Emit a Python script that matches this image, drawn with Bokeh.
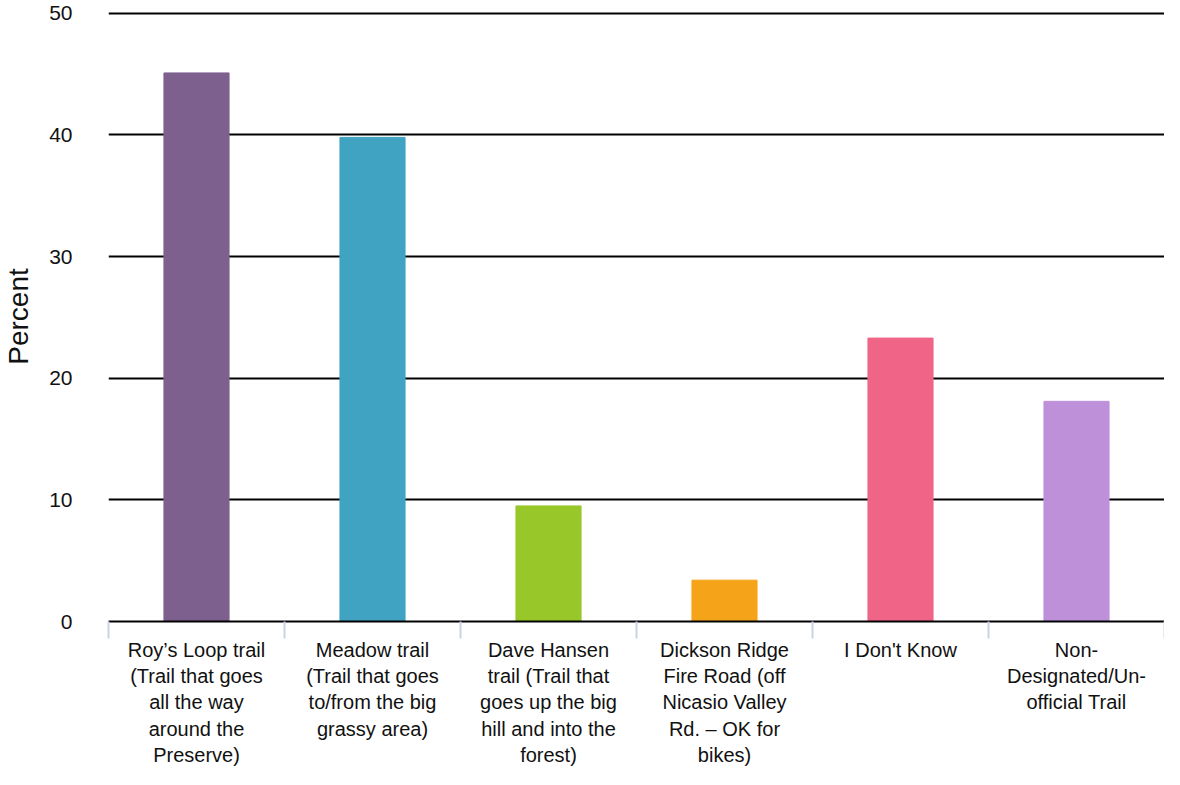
from bokeh.plotting import figure
from bokeh.models import ColumnDataSource, FixedTicker, Range1d
from bokeh.embed import file_html
from bokeh.resources import INLINE

categories = [
    "Roy\u2019s Loop trail\n(Trail that goes\nall the way\naround the\nPreserve)",
    "Meadow trail\n(Trail that goes\nto/from the big\ngrassy area)",
    "Dave Hansen\ntrail (Trail that\ngoes up the big\nhill and into the\nforest)",
    "Dickson Ridge\nFire Road (off\nNicasio Valley\nRd. \u2013 OK for\nbikes)",
    "I Don't Know",
    "Non-\nDesignated/Un-\nofficial Trail",
]
percent = [45.1, 39.8, 9.5, 3.4, 23.3, 18.1]
colors = ["#7E608E", "#40A3C1", "#97C728", "#F5A41A", "#F06487", "#BE90DA"]
y_ticks = [0, 10, 20, 30, 40, 50]

n = len(categories)
centers = [i + 0.5 for i in range(n)]
bounds = list(range(n + 1))

src = ColumnDataSource(dict(x=centers, top=percent, color=colors))

FONT = "Liberation Sans"

p = figure(
    width=1164, height=769,
    output_backend="svg", toolbar_location=None,
    x_range=Range1d(0, n), y_range=Range1d(0, 50.15),
    min_border_left=100, min_border_right=0, min_border_top=11, min_border_bottom=140,
)
p.outline_line_color = None
p.background_fill_color = "white"
p.border_fill_color = "white"

p.vbar(x="x", top="top", bottom=0, width=0.37, color="color", source=src)

# x axis: labels at bar centres, separator ticks between categories
xa = p.xaxis[0]
xa.ticker = FixedTicker(ticks=centers, minor_ticks=bounds)
xa.major_label_overrides = {c: lab for c, lab in zip(centers, categories)}
xa.major_tick_line_color = None
xa.major_tick_out = 0
xa.major_tick_in = 0
xa.minor_tick_line_color = "#C9D3E6"
xa.minor_tick_line_width = 2
xa.minor_tick_out = 17
xa.minor_tick_in = 0
xa.axis_line_color = "black"
xa.axis_line_width = 2
xa.major_label_text_font = FONT
xa.major_label_text_font_size = "20px"
xa.major_label_text_color = "#111111"
xa.major_label_text_line_height = 1.2
xa.major_label_standoff = 0

# y axis
ya = p.yaxis[0]
ya.ticker = FixedTicker(ticks=y_ticks)
ya.axis_line_color = None
ya.major_tick_line_color = None
ya.minor_tick_line_color = None
ya.major_label_text_font = FONT
ya.major_label_text_font_size = "21px"
ya.major_label_text_color = "#111111"
ya.major_label_standoff = 30
ya.axis_label = "Percent"
ya.axis_label_text_font = FONT
ya.axis_label_text_font_size = "28px"
ya.axis_label_text_font_style = "normal"
ya.axis_label_text_color = "#111111"
ya.axis_label_standoff = 12

p.xgrid.grid_line_color = None
p.ygrid.grid_line_color = "black"
p.ygrid.grid_line_width = 2

open("out.html", "w").write(file_html(p, INLINE))
